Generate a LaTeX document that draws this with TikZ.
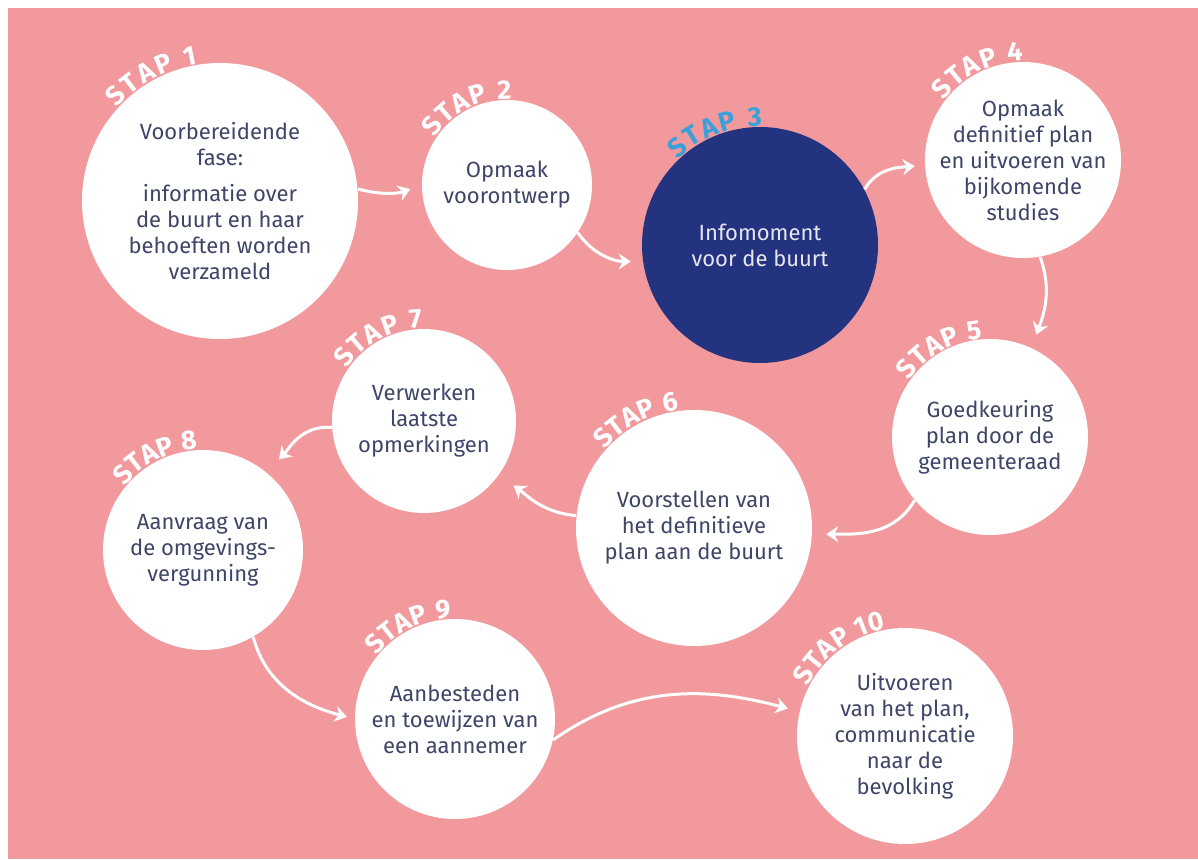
\documentclass[tikz,border=0pt]{standalone}
\usepackage{fontspec}
\setmainfont{Fira Sans}
\usetikzlibrary{arrows.meta,decorations.text}
\definecolor{bgpink}{RGB}{242,153,157}
\definecolor{navy}{RGB}{36,51,128}
\definecolor{stapblue}{RGB}{58,160,218}
\definecolor{inkblue}{RGB}{62,69,104}
\newcommand\stapfont{\bfseries\fontsize{13.5}{13.5}\selectfont}

\begin{document}
\begin{tikzpicture}
[x=0.5pt, y=0.5pt, font=\fontsize{11}{13}\selectfont,
stage/.style={circle, fill=white, text=inkblue, align=center, inner sep=0pt},
current/.style={stage, fill=navy, text=white!88!navy},
flow/.style={draw=white, line width=1.5pt, -{Stealth[length=6pt,width=8pt]}}]

\useasboundingbox (0,0) rectangle (1198,859);
\fill[white] (0,0) rectangle (1198,859);
\fill[bgpink] (8,0) rectangle (1198,851);

\node[stage,minimum size=138pt] (s1) at (220,658) {Voorbereidende\\fase:\\[5pt]informatie over\\de buurt en haar\\behoeften worden\\verzameld};
\node[stage,minimum size=85pt] (s2) at (507,674) {Opmaak\\voorontwerp};
\node[current,minimum size=118pt] (s3) at (760,614) {Infomoment\\voor de buurt};
\node[stage,minimum size=98pt,inner sep=-6pt] (s4) at (1023,699) {Opmaak\\definitief plan\\en uitvoeren van\\bijkomende\\studies};
\node[stage,minimum size=98pt] (s5) at (990,422) {Goedkeuring\\plan door de\\gemeenteraad};
\node[stage,minimum size=118pt] (s6) at (694,331) {Voorstellen van\\het definitieve\\plan aan de buurt};
\node[stage,minimum size=92pt] (s7) at (424,438) {Verwerken\\laatste\\opmerkingen};
\node[stage,minimum size=100pt] (s8) at (203,309) {Aanvraag van\\de omgevings-\\vergunning};
\node[stage,minimum size=100pt] (s9) at (455,140) {Aanbesteden\\en toewijzen van\\een aannemer};
\node[stage,minimum size=108pt] (s10) at (905,123) {Uitvoeren\\van het plan,\\communicatie\\naar de\\bevolking};

% step labels round the circles
\foreach \n/\R/\a/\b/\c in {1/139/138/99/white, 2/86/147/87/white, 3/119/134/89/stapblue,
    4/99/143/90/white, 5/99/145/94/white, 6/119/139/97/white, 7/93/146/91/white,
    8/101/141/93/white, 9/101/141/92/white, 10/109/153/100/white} {
    \path[decorate, decoration={text along path, text align={fit to path},
        text/.expanded={|\noexpand\stapfont\noexpand\color{\c}|STAP \n}}]
        (s\n) ++(\a:\R) arc (\a:\b:\R);
}

\draw[flow, shorten >=6pt] (s1.5) to[out=-15,in=200] (s2.180);
\draw[flow, shorten >=6pt] (s2.-34) to[out=-55,in=180] (s3.188);
\draw[flow, shorten >=5pt] (s3.28) to[out=60,in=185] (s4.183);
\draw[flow, shorten >=7pt] (s4.-80) to[out=-70,in=70] (s5.65);
\draw[flow, shorten >=7pt] (s5.-140) to[out=-120,in=0] (s6.-3);
\draw[flow, shorten >=9pt] (s6.174) to[out=175,in=-35] (s7.-36);
\draw[flow, shorten >=9pt] (s7.184) to[out=175,in=45] (s8.51);
\draw[flow, shorten >=4pt] (s8.-60) to[out=-75,in=165] (s9.180);
\draw[flow, shorten >=6pt] (s9.-12) to[out=35,in=165] (s10.167);

\end{tikzpicture}
\end{document}
